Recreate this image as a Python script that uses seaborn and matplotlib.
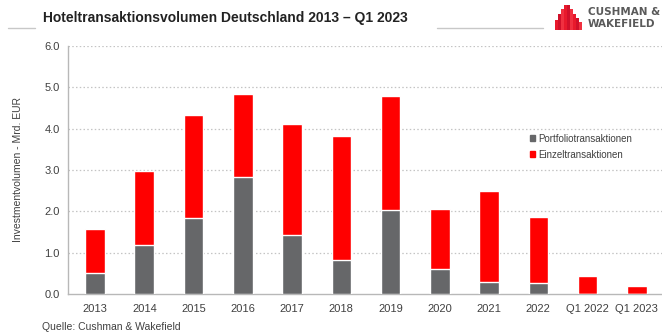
import matplotlib
matplotlib.use("Agg")
import matplotlib.pyplot as plt
import matplotlib.patches as mpatches
from matplotlib.lines import Line2D
import seaborn as sns
import pandas as pd

# Hotel transaction volume Germany, bn EUR
categories = ["2013", "2014", "2015", "2016", "2017", "2018", "2019",
              "2020", "2021", "2022", "Q1 2022", "Q1 2023"]
portfolio = [0.50, 1.18, 1.85, 2.82, 1.42, 0.82, 2.03, 0.60, 0.28, 0.26, 0.00, 0.00]
einzel = [1.08, 1.79, 2.49, 2.03, 2.70, 3.00, 2.75, 1.45, 2.21, 1.61, 0.44, 0.19]
yticks = [0.0, 1.0, 2.0, 3.0, 4.0, 5.0, 6.0]

GREY = "#666769"
RED = "#ff0000"
TEXT = "#404040"

sns.set_style("white")
plt.rcParams["font.family"] = ["Liberation Sans", "DejaVu Sans"]

df = pd.DataFrame({
    "Jahr": categories,
    "Portfolio": portfolio,
    "Gesamt": [p + e for p, e in zip(portfolio, einzel)],
})

W, H = 662, 336
fig = plt.figure(figsize=(W / 100, H / 100), dpi=100)
ax = fig.add_axes([68 / W, 42 / H, (W - 68) / W, 248 / H])

# stacked bars: total in red, portfolio share in grey on top of it
sns.barplot(data=df, x="Jahr", y="Gesamt", color=RED, width=0.4,
            saturation=1, ax=ax, zorder=3)
sns.barplot(data=df, x="Jahr", y="Portfolio", color=GREY, width=0.4,
            saturation=1, ax=ax, zorder=3)

ax.set_ylim(0, 6.0)
ax.set_xlim(-0.55, 11.51)
ax.set_yticks(yticks)
ax.set_yticklabels([f"{v:.1f}" for v in yticks])
ax.set_xlabel("")
ax.set_ylabel("Investmentvolumen - Mrd. EUR", fontsize=7.5, color=TEXT, labelpad=15)

for v in yticks[1:]:
    ax.axhline(v, color="#c4c4c4", lw=0.9, ls=(0, (1.2, 1.8)), zorder=1)

for s in ["top", "right"]:
    ax.spines[s].set_visible(False)
for s in ["left", "bottom"]:
    ax.spines[s].set_color("#b8b8b8")
    ax.spines[s].set_linewidth(1.0)

ax.tick_params(axis="y", length=3, width=0.8, color="#b8b8b8",
               labelsize=8, labelcolor=TEXT, pad=3)
ax.tick_params(axis="x", length=0, labelsize=8, labelcolor=TEXT, pad=7)
ax.set_xticks([i + 0.5 for i in range(len(categories) - 1)], minor=True)
ax.tick_params(axis="x", which="minor", length=3, width=0.8, color="#b8b8b8")

handles = [mpatches.Patch(color=GREY, label="Portfoliotransaktionen"),
           mpatches.Patch(color=RED, label="Einzeltransaktionen")]
ax.legend(handles=handles, loc="upper left", bbox_to_anchor=(458 / (W - 68), 0.662),
          frameon=False, fontsize=7, handlelength=0.55, handleheight=0.55,
          handletextpad=0.35, labelspacing=0.6, labelcolor=TEXT, borderaxespad=0)

# header
fig.text(43 / W, 1 - 18 / H, "Hoteltransaktionsvolumen Deutschland 2013 \u2013 Q1 2023",
         fontsize=10, fontweight="bold", color="#222222", va="center", ha="left")
fig.add_artist(Line2D([8 / W, 35 / W], [1 - 28 / H, 1 - 28 / H], color="#c8c8c8", lw=1))
fig.add_artist(Line2D([437 / W, 543 / W], [1 - 28 / H, 1 - 28 / H], color="#c8c8c8", lw=1))

# company mark: stepped red building with stripes
steps = [(555, 20), (558, 14), (561, 9), (564, 5), (567, 5), (570, 9),
         (573, 14), (576, 18), (579, 22)]
for i, (x0, top) in enumerate(steps):
    shade = ["#e8192c", "#d0102a", "#f03040"][i % 3]
    fig.add_artist(mpatches.Rectangle((x0 / W, 1 - 30 / H), 2.6 / W, (30 - top) / H,
                                      transform=fig.transFigure, color=shade, lw=0))
fig.text(588 / W, 1 - 12 / H, "CUSHMAN &", fontsize=7.5, fontweight="bold",
         color="#5a5a5a", va="center", ha="left", family=["DejaVu Sans"])
fig.text(588 / W, 1 - 24 / H, "WAKEFIELD", fontsize=7.5, fontweight="bold",
         color="#5a5a5a", va="center", ha="left", family=["DejaVu Sans"])

fig.text(42 / W, 1 - 327 / H, "Quelle: Cushman & Wakefield", fontsize=7.5,
         color=TEXT, va="center", ha="left")

fig.savefig("out.png", dpi=100)
